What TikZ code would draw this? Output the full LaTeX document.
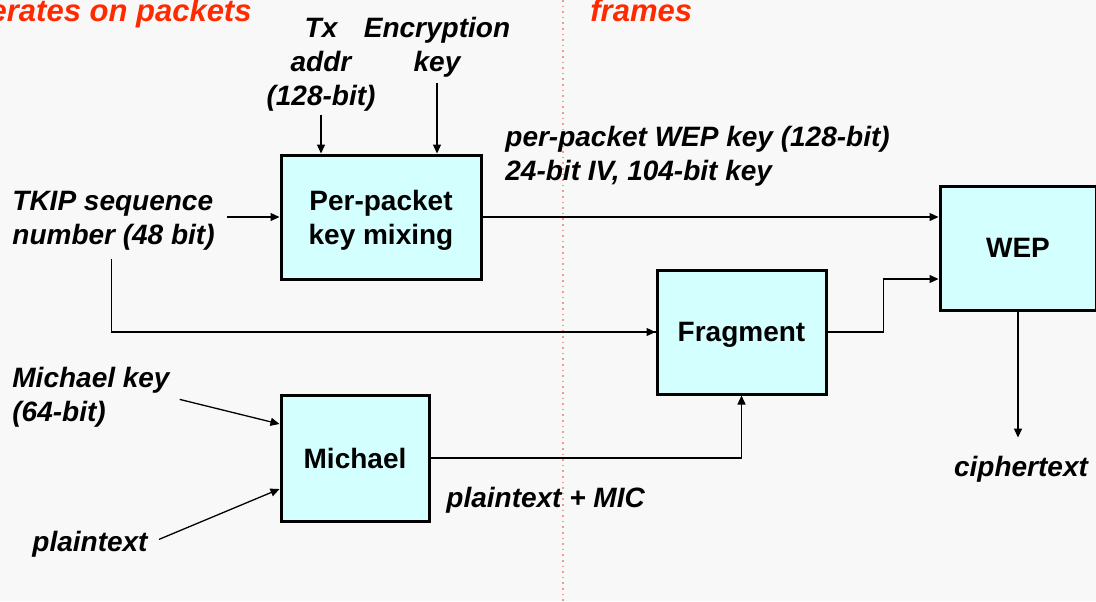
\documentclass[tikz,border=0pt]{standalone}
\usepackage{fontspec}
\setmainfont{Liberation Sans}
\usetikzlibrary{arrows.meta}

\definecolor{bgcol}{HTML}{F8F8F8}
\definecolor{boxcol}{HTML}{D4FFFF}
\definecolor{redtxt}{HTML}{FF2A00}
\definecolor{divline}{HTML}{F39A8C}

\begin{document}
\begin{tikzpicture}[x=0.5pt,y=-0.5pt,
	block/.style={draw=black, line width=1.5pt, fill=boxcol, font=\fontsize{14}{17}\selectfont\bfseries, align=center, inner sep=0pt, text depth=0pt},
	lbl/.style={font=\fontsize{14}{17}\selectfont\bfseries\itshape, inner sep=0pt},
	redlbl/.style={font=\fontsize{15.5}{18}\selectfont\bfseries\itshape, text=redtxt, inner sep=0pt},
	conn/.style={line width=0.65pt, -{Triangle[length=4.5pt,width=4pt]}},
	wire/.style={line width=0.65pt}]

	% Background
	\fill[bgcol] (0,0) rectangle (1096,601);
	\useasboundingbox (0,0) rectangle (1096,601);

	% Divider
	\draw[divline, line width=0.8pt, dotted] (563,0) -- (563,601);
	\node[redlbl, anchor=base east] (pkts) at (252,21) {erates on packets};
	\node[redlbl, anchor=base west] (frms) at (590,21) {frames};

	% Blocks
	\node[block, minimum width=100pt, minimum height=62pt] (mix) at (381,217) {Per-packet\\key mixing};
	\node[block, minimum width=78pt, minimum height=62pt] (wep) at (1018,248) {WEP};
	\node[block, minimum width=84.5pt, minimum height=62pt] (frag) at (741.5,332) {Fragment};
	\node[block, minimum width=74pt, minimum height=63pt] (mich) at (355,458) {Michael};

	% Inputs
	\node[lbl, align=center] (tx) at (321,65) {Tx\\addr\\(128-bit)};
	\node[lbl, align=center] (enc) at (437,47) {Encryption\\key};
	\node[lbl, align=left, anchor=west] (tkip) at (12,221) {TKIP sequence\\number (48 bit)};
	\node[lbl, align=left, anchor=west] (michkey) at (12,397) {Michael key\\(64-bit)};
	\node[lbl, anchor=west] (plain) at (32,544) {plaintext};
	\coordinate (tkipfoot) at ([xshift=-1pt,yshift=-4pt]tkip.south);

	% Outputs
	\node[lbl, align=left, anchor=west] (wepkey) at (505,156) {per-packet WEP key (128-bit)\\24-bit IV, 104-bit key};
	\node[lbl, anchor=west] (mic) at (446,500) {plaintext + MIC};
	\node[lbl] (cipher) at (1021,469) {ciphertext};

	% Connectors
	\draw[conn] ([yshift=-1.5pt]tx.south) -- (tx.south |- mix.north);
	\draw[conn] ([yshift=-3pt]enc.south) -- (enc.south |- mix.north);
	\draw[conn, shorten <=6pt] (tkip.east |- mix.west) -- (mix.west);
	\draw[wire] (tkipfoot) |- (frag.west);
	\draw[conn] (tkipfoot |- frag.west) -- (frag.west);
	\draw[conn] (mix.east) -- (mix.east -| wep.west);
	\draw[conn] (frag.east) -- ++(56,0) |- ([yshift=-15.5pt]wep.west);
	\draw[conn, shorten >=9pt] (wep.south) -- (cipher.north -| wep.south);
	\draw[conn] (mich.east) -| (frag.south);
	\draw[conn, shorten <=5pt] (michkey.east) -- ([yshift=17pt]mich.west);
	\draw[conn, shorten <=6pt] (plain.east) -- ([yshift=-15.5pt]mich.west);

\end{tikzpicture}
\end{document}
